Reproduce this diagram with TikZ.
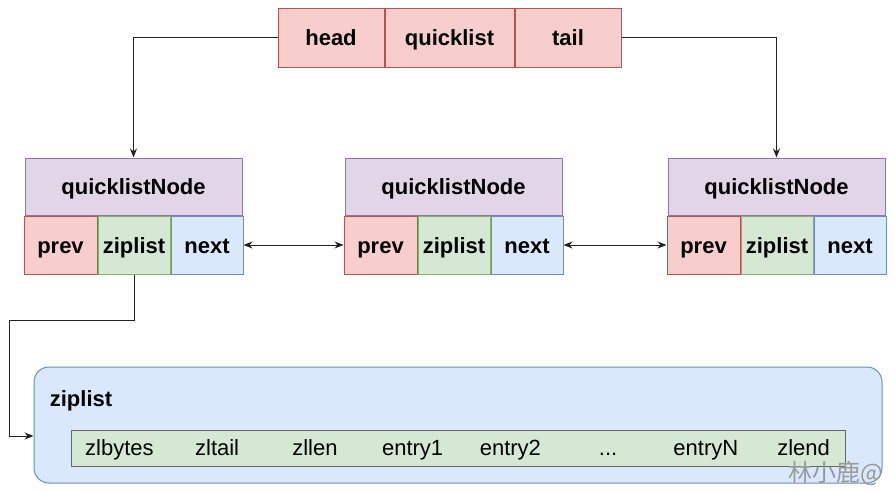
\documentclass[tikz,border=0pt]{standalone}
\usepackage{fontspec}
\setmainfont{Liberation Sans}
\newfontfamily\cjkfont{Noto Sans CJK SC}
\usepackage{tikz}
\usetikzlibrary{positioning, arrows.meta}

\definecolor{redfill}{HTML}{F8CECC}
\definecolor{redline}{HTML}{B85450}
\definecolor{purplefill}{HTML}{E1D5E7}
\definecolor{purpleline}{HTML}{9673A6}
\definecolor{greenfill}{HTML}{D5E8D4}
\definecolor{greenline}{HTML}{82B366}
\definecolor{bluefill}{HTML}{DAE8FC}
\definecolor{blueline}{HTML}{6C8EBF}
\definecolor{barline}{HTML}{666666}
\definecolor{wire}{HTML}{222222}

\begin{document}
\begin{tikzpicture}[
    x=1pt, y=-1pt,
    >={Stealth[length=9pt, width=7pt]},
    line width=1pt,
    font=\fontsize{22}{26}\selectfont,
    node distance=0pt
]

    % Global styles for the boxes
    \tikzset{
        cell/.style={draw, inner sep=0pt, minimum height=58pt,
            text height=21pt, text depth=4.6pt,
            font=\fontsize{22}{26}\selectfont\bfseries},
        redcell/.style={cell, fill=redfill, draw=redline},
        greencell/.style={cell, fill=greenfill, draw=greenline},
        bluecell/.style={cell, fill=bluefill, draw=blueline},
        titlecell/.style={cell, fill=purplefill, draw=purpleline,
            minimum width=217pt, minimum height=57pt},
        entry/.style={inner sep=0pt, minimum width=96.75pt, minimum height=36pt,
            text height=19pt, text depth=4.6pt},
        wire/.style={draw=wire}
    }

    \useasboundingbox (0,0) rectangle (895,491);

    % quicklist header
    \node[redcell, minimum width=129pt, minimum height=59pt] (QL) at (449.5,37.5) {quicklist};
    \node[redcell, minimum width=106pt, minimum height=59pt, left=of QL] (Head) {head};
    \node[redcell, minimum width=106pt, minimum height=59pt, right=of QL] (Tail) {tail};

    % quicklistNode 1
    \node[titlecell] (T1) at (133.5,186.5) {quicklistNode};
    \node[greencell, minimum width=72pt, below=of T1, xshift=0.5pt] (Z1) {ziplist};
    \node[redcell, minimum width=73pt, left=of Z1] (P1) {prev};
    \node[bluecell, minimum width=72pt, right=of Z1] (N1) {next};

    % quicklistNode 2
    \node[titlecell] (T2) at (453.5,186.5) {quicklistNode};
    \node[greencell, minimum width=72pt, below=of T2, xshift=0.5pt] (Z2) {ziplist};
    \node[redcell, minimum width=73pt, left=of Z2] (P2) {prev};
    \node[bluecell, minimum width=72pt, right=of Z2] (N2) {next};

    % quicklistNode 3
    \node[titlecell] (T3) at (776.5,186.5) {quicklistNode};
    \node[greencell, minimum width=72pt, below=of T3, xshift=0.5pt] (Z3) {ziplist};
    \node[redcell, minimum width=73pt, left=of Z3] (P3) {prev};
    \node[bluecell, minimum width=72pt, right=of Z3] (N3) {next};

    % head / tail pointers
    \draw[wire, ->] (Head.west) -| (T1.north);
    \draw[wire, ->] (Tail.east) -| (T3.north);

    % prev <-> next
    \draw[wire, <->] (N1.east) -- (P2.west);
    \draw[wire, <->] (N2.east) -- (P3.west);

    % ziplist container
    \node[draw=blueline, fill=bluefill, rounded corners=15pt,
        minimum width=848pt, minimum height=116pt] (ZL) at (458,425) {};
    \node[anchor=west, font=\fontsize{22}{26}\selectfont\bfseries] (ZLTitle) at (46,401) {ziplist};
    \node[draw=barline, fill=greenfill, inner sep=0pt,
        minimum width=774pt, minimum height=36pt] (Bar) at (458,448) {};

    % ziplist entries
    \node[entry, anchor=west] (E1) at (Bar.west) {zlbytes};
    \node[entry, right=of E1] (E2) {zltail};
    \node[entry, right=of E2] (E3) {zllen};
    \node[entry, right=of E3] (E4) {entry1};
    \node[entry, right=of E4] (E5) {entry2};
    \node[entry, right=of E5] (E6) {...};
    \node[entry, right=of E6] (E7) {entryN};
    \node[entry, right=of E7] (E8) {zlend};

    % ziplist pointer
    \coordinate (Bend) at (9,320);
    \draw[wire, ->] (Z1.south) |- (Bend) |- ([yshift=-11pt]ZL.west);

    % watermark
    \node[font=\cjkfont\fontsize{24}{28}\selectfont, text=black!40] (Mark) at (836,473) {林小鹿@};

\end{tikzpicture}
\end{document}
